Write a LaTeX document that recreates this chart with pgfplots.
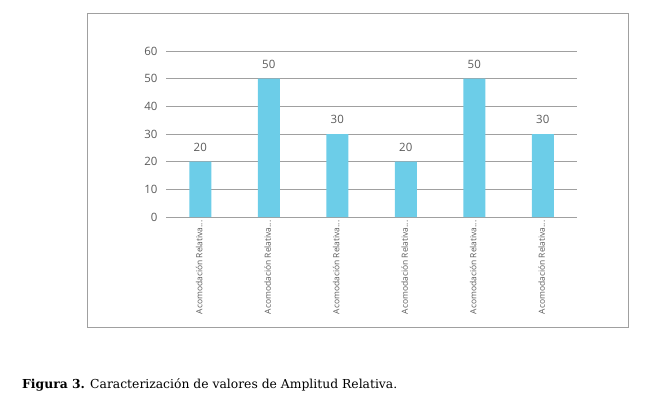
\documentclass[border=0pt]{standalone}
\usepackage{fontspec}
\setmainfont{DejaVu Serif}
\newfontfamily\osans{Open Sans}
\usepackage{pgfplots}
\pgfplotsset{compat=1.18}
\definecolor{barblue}{HTML}{6CCDE8}
\definecolor{txtgray}{HTML}{5A5A5A}
\definecolor{gridgray}{HTML}{A0A0A0}
\newcommand\lab{Acomodación Relativa...}
\begin{document}
\begin{tikzpicture}[x=1bp,y=1bp]
\path[use as bounding box] (0,0) rectangle (645,408);
\draw[gridgray, line width=1bp] (87,81) rectangle (628,394);
\begin{axis}[
  at={(166bp,191bp)}, anchor=south west,
  scale only axis, width=411bp, height=166bp,
  xmin=-0.5, xmax=5.5, ymin=0, ymax=60,
  ytick={0,10,20,30,40,50,60},
  xtick={0,1,2,3,4,5},
  xticklabels={\lab,\lab,\lab,\lab,\lab,\lab},
  axis line style={draw=none},
  major tick length=0pt,
  ymajorgrids,
  major grid style={gridgray, line width=1bp},
  /pgf/number format/assume math mode=true,
  yticklabel style={font=\osans\fontsize{11.5}{13}\selectfont, text=txtgray, xshift=-5bp},
  xticklabel style={font=\osans\fontsize{8.5}{9}\selectfont, text=txtgray, rotate=90, anchor=east, yshift=1bp},
  clip=false,
]
\addplot[ybar, bar width=22bp, fill=barblue, draw=none,
  nodes near coords,
  every node near coord/.append style={font=\osans\fontsize{11.5}{13}\selectfont, text=txtgray, yshift=7bp}]
  coordinates {(0,20) (1,50) (2,30) (3,20) (4,50) (5,30)};
\end{axis}
\node[anchor=base west, inner sep=0pt, font=\fontsize{12.4}{15}\selectfont] at (22,20) {\textbf{Figura 3.} Caracterización de valores de Amplitud Relativa.};
\end{tikzpicture}
\end{document}
